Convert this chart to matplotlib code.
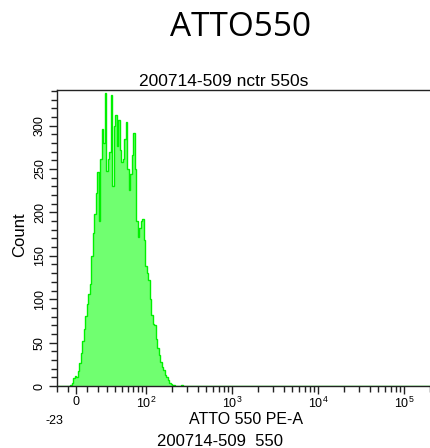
"""
ATTO550 histogram (FlowJo style, biexponential x axis)
"""
import numpy as np
import matplotlib
matplotlib.use("Agg")
import matplotlib.pyplot as plt
from matplotlib.ticker import FixedLocator, FixedFormatter, NullFormatter

plt.rcParams["font.family"] = ["Liberation Sans", "DejaVu Sans"]
plt.rcParams["mathtext.default"] = "regular"

# ---- chart text ----
TITLE = "ATTO550"
SAMPLE_NAME = "200714-509 nctr 550s"
X_LABEL = "ATTO 550 PE-A"
X_SUBLABEL = "200714-509  550"
Y_LABEL = "Count"

# ---- histogram data (256 channels on the display scale) ----
N_CHANNELS = 256
X_RANGE = (-23, 262144)
FIRST_CHANNEL = 9
COUNTS = [1, 4, 9, 11, 10, 17, 26, 38, 52, 66,
          81, 94, 106, 118, 150, 176, 198, 222, 246, 190,
          262, 296, 280, 338, 248, 262, 270, 335, 230, 300,
          312, 276, 306, 272, 258, 262, 284, 304, 250, 226,
          244, 266, 292, 250, 190, 172, 182, 190, 192, 168,
          138, 130, 122, 100, 82, 72, 70, 54, 44, 36,
          28, 22, 18, 13, 10, 7, 4, 2, 1, 1,
          0, 0, 0, 0, 1]

# ---- axis ticks ----
X_MAJOR = [0, 100, 1000, 10000, 100000]
X_MAJOR_LABELS = ["0", "$10^2$", "$10^3$", "$10^4$", "$10^5$"]
X_MINOR = ([-23, -10] + list(range(10, 100, 10)) + list(range(200, 1000, 100))
           + list(range(2000, 10000, 1000)) + list(range(20000, 100000, 10000))
           + [200000])
Y_MAJOR = [0, 50, 100, 150, 200, 250, 300]
Y_MINOR = list(range(0, 341, 10))
Y_MAX = 341


# biexponential-like display transform (units are roughly pixels from zero)
NEG_SLOPE = 0.839
A, C = 39.57, 35.0
LOG_START = A * np.arcsinh(100 / C)
DECADE = 86.0


def fwd(v):
    v = np.asarray(v, dtype=float)
    lin = A * np.arcsinh(v / C)
    logp = LOG_START + DECADE * (np.log10(np.maximum(v, 100)) - 2)
    return np.where(v < 0, v * NEG_SLOPE, np.where(v < 100, lin, logp))


def inv(u):
    u = np.asarray(u, dtype=float)
    lin = C * np.sinh(u / A)
    logv = 10 ** (np.minimum(u - LOG_START, 400) / DECADE + 2)
    return np.where(u < 0, u / NEG_SLOPE, np.where(u < LOG_START, lin, logv))


W, H = 431, 448
fig = plt.figure(figsize=(W / 100, H / 100), dpi=100)
ax = fig.add_axes([57 / W, 62 / H, 1 - 57 / W, 296 / H])
ax.set_xscale("function", functions=(fwd, inv))

# channel edges are evenly spaced on the display scale
u_edges = np.linspace(fwd(X_RANGE[0]), fwd(X_RANGE[1]), N_CHANNELS + 1)
edges = inv(u_edges)
counts = np.zeros(N_CHANNELS)
counts[FIRST_CHANNEL:FIRST_CHANNEL + len(COUNTS)] = COUNTS

ax.stairs(counts, edges, fill=True, color="#70ff70", lw=0)
ax.stairs(counts, edges, color="#00f000", lw=1.0)

ax.set_xlim(X_RANGE[0], float(inv(355)))
ax.set_ylim(0, Y_MAX)

# ticks
ax.xaxis.set_major_locator(FixedLocator(X_MAJOR))
ax.xaxis.set_major_formatter(FixedFormatter(X_MAJOR_LABELS))
ax.xaxis.set_minor_locator(FixedLocator(X_MINOR))
ax.xaxis.set_minor_formatter(NullFormatter())
ax.yaxis.set_major_locator(FixedLocator(Y_MAJOR))
ax.yaxis.set_minor_locator(FixedLocator(Y_MINOR))

ax.tick_params(axis="both", which="major", length=6, width=1, color="#222222",
               labelsize=9, direction="out")
ax.tick_params(axis="both", which="minor", length=4, width=1, color="#222222",
               direction="out")
ax.tick_params(axis="x", which="major", pad=1)
ax.tick_params(axis="y", which="major", pad=2)
for lab in ax.get_yticklabels():
    lab.set_rotation(90)
    lab.set_va("center")

ax.annotate("-23", xy=(X_RANGE[0], 0), xycoords=("data", "axes fraction"),
            xytext=(-2, -25), textcoords="offset points", ha="center",
            va="center", fontsize=9)

for side in ["top", "left", "bottom"]:
    ax.spines[side].set_color("#222222")
    ax.spines[side].set_linewidth(1)
ax.spines["right"].set_visible(False)

# texts
fig.text(241 / W, 1 - 27 / H, TITLE, ha="center", va="center", fontsize=24,
         family=["Open Sans", "DejaVu Sans"])
fig.text(224 / W, 1 - 81 / H, SAMPLE_NAME, ha="center", va="center", fontsize=12.5)
fig.text(246 / W, 1 - 419 / H, X_LABEL, ha="center", va="center", fontsize=11.5)
fig.text(220 / W, 1 - 441 / H, X_SUBLABEL, ha="center", va="center", fontsize=12)
fig.text(20 / W, 1 - 235 / H, Y_LABEL, ha="center", va="center", fontsize=12,
         rotation=90)

fig.savefig("out.png", dpi=100)
